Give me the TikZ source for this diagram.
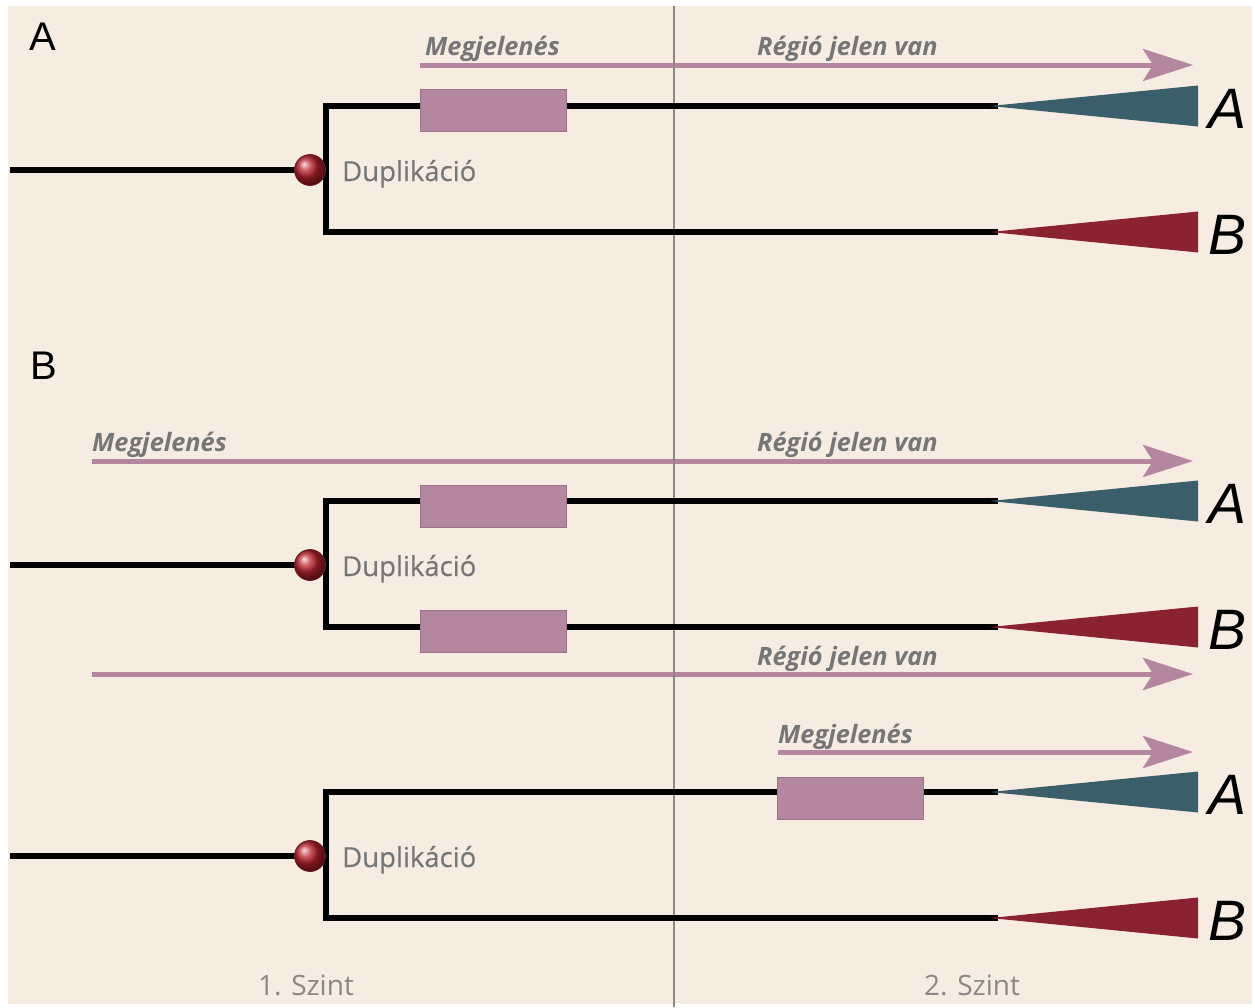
\documentclass[tikz,border=0pt]{standalone}
\usepackage{fontspec}
\setmainfont{Open Sans}
\newfontfamily\arialf{Liberation Sans}
\usetikzlibrary{arrows.meta}
\definecolor{bgc}{HTML}{F6ECE2}
\definecolor{mauve}{HTML}{B5869F}
\definecolor{tealA}{HTML}{3B5F6A}
\definecolor{redB}{HTML}{8A2232}
\definecolor{txtgrey}{HTML}{767676}
\definecolor{lightgrey}{HTML}{8A8784}
\definecolor{vline}{HTML}{8C8884}
\tikzset{
  branch/.style={line width=5.5pt, black, line join=miter},
  exprbox/.style={fill=mauve, draw=mauve!85!black, line width=0.6pt, minimum width=146pt, minimum height=42pt, inner sep=0pt},
  arr/.style={draw=mauve, line width=5pt, -{Stealth[length=50pt,width=32pt,inset=10pt,fill=mauve]}},
  arrlbl/.style={font=\fontsize{25.3}{30}\selectfont\bfseries\itshape, text=txtgrey, anchor=base west, inner sep=0pt},
  duplbl/.style={font=\fontsize{27.5}{32}\selectfont\addfontfeature{FakeBold=0.4}, text=txtgrey, anchor=base west, inner sep=0pt},
  tiplbl/.style={font=\arialf\itshape\fontsize{57}{60}\selectfont, anchor=base west, inner sep=0pt},
  panellbl/.style={font=\arialf\fontsize{40}{44}\selectfont, anchor=base west, inner sep=0pt},
  levellbl/.style={font=\fontsize{28}{32}\selectfont, text=lightgrey, anchor=base, inner sep=0pt},
  dupball/.style={circle, minimum size=31pt, inner sep=0pt, ball color={rgb,255:red,185;green,35;blue,45}, draw=redB!80!black, line width=0.8pt},
  gtree/.pic={
    \coordinate (-start) at (10,0);
    \coordinate (-top) at (326,-64);
    \coordinate (-bot) at (326,62);
    \coordinate (-topend) at (990,-64);
    \coordinate (-botend) at (990,62);
    \coordinate (-toptip) at (1198,-64);
    \coordinate (-bottip) at (1198,62);
    \draw[branch] ([xshift=8pt]-topend) -- (-top) -- (-bot) -- ([xshift=8pt]-botend);
    \draw[branch] (-start) -- (300,0);
    \fill[tealA] (-topend) -- ([yshift=-20.5pt]-toptip) -- ([yshift=20.5pt]-toptip) -- cycle;
    \fill[redB] (-botend) -- ([yshift=-20.5pt]-bottip) -- ([yshift=20.5pt]-bottip) -- cycle;
    \node[dupball] (-dup) at (310,0) {};
    \node[duplbl] (-duplbl) at (342,11) {Duplikáció};
    \node[tiplbl] (-A) at (1208,-42) {A};
    \node[tiplbl] (-B) at (1208,84) {B};
  }
}
\begin{document}
\begin{tikzpicture}[x=1pt,y=-1pt]
\useasboundingbox (0,0) rectangle (1255,1007);
\fill[white] (0,0) rectangle (1255,1007);
\fill[bgc] (8,6) rectangle (1252,1004);

% panel labels
\node[panellbl] (pA) at (29,50) {A};
\node[panellbl] (pB) at (30,379) {B};

% arrows
\coordinate (a1s) at (420,65); \coordinate (a1e) at (1193,65);
\draw[arr] (a1s) -- (a1e);
\node[arrlbl] (a1m) at (425,55) {Megjelenés};
\node[arrlbl] (a1r) at (757,55) {Régió jelen van};

\coordinate (a2s) at (92,461); \coordinate (a2e) at (1193,461);
\draw[arr] (a2s) -- (a2e);
\node[arrlbl] (a2m) at (92,451) {Megjelenés};
\node[arrlbl] (a2r) at (757,451) {Régió jelen van};

\coordinate (a3s) at (92,674); \coordinate (a3e) at (1193,674);
\draw[arr] (a3s) -- (a3e);
\node[arrlbl] (a3r) at (757,665) {Régió jelen van};

\coordinate (a4s) at (778,752); \coordinate (a4e) at (1193,752);
\draw[arr] (a4s) -- (a4e);
\node[arrlbl] (a4m) at (778,743) {Megjelenés};

% level divider
\coordinate (vtop) at (674,6); \coordinate (vbot) at (674,1007);
\draw[vline, line width=2pt] (vtop) -- (vbot);

% trees
\pic (t1) at (0,170) {gtree};
\pic (t2) at (0,565) {gtree};
\pic (t3) at (0,856) {gtree};

% expression boxes
\node[exprbox] (e1) at (493,110) {};
\node[exprbox] (e2) at (493,506) {};
\node[exprbox] (e3) at (493,631) {};
\node[exprbox] (e4) at (850.5,798) {};

% level labels
\node[levellbl] (l1) at (306,995) {1. Szint};
\node[levellbl] (l2) at (972,995) {2. Szint};
\end{tikzpicture}
\end{document}
